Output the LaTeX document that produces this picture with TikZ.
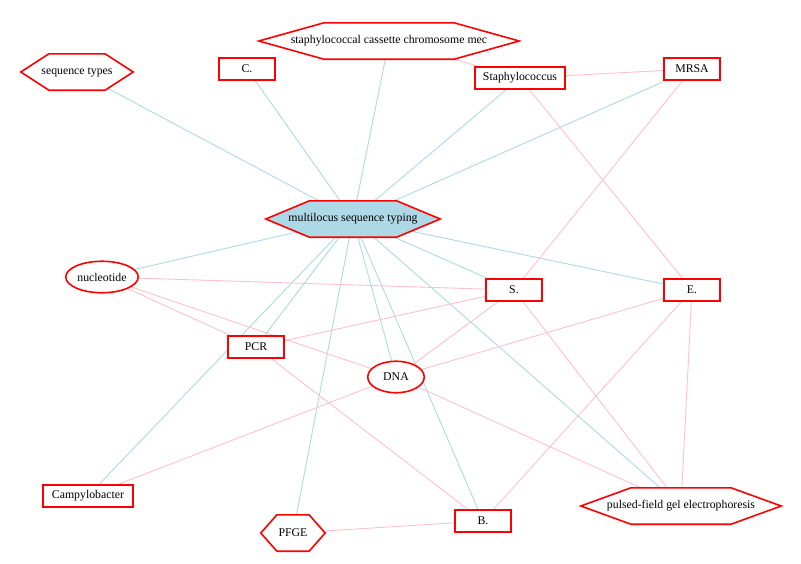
\documentclass[tikz,border=0pt]{standalone}
\usepackage{fontspec}
\setmainfont{Liberation Serif}
\usetikzlibrary{shapes.geometric}
\definecolor{edgeblue}{RGB}{173,216,230}
\definecolor{edgepink}{RGB}{255,192,203}
\definecolor{nodered}{RGB}{255,0,0}
\pgfdeclarelayer{edges}
\pgfdeclarelayer{shapes}
\pgfsetlayers{edges,shapes,main}
\tikzset{
  every node/.style={font=\fontsize{11.8}{14}\selectfont, inner sep=0pt},
  boxnode/.style={draw=nodered, line width=1.6pt, fill=white, minimum width=55.5pt, minimum height=22.5pt},
  ellnode/.style={ellipse, draw=nodered, line width=1.6pt, fill=white},
  hextext/.style={},
  hexline/.style={draw=nodered, line width=1.6pt, fill=white},
  blueedge/.style={draw=edgeblue, line width=0.9pt},
  pinkedge/.style={draw=edgepink, line width=0.9pt},
}
% #1 extra style, #2 name, #3 x, #4 y, #5 width, #6 height, #7 text
\newcommand\hexnode[7][]{%
  \node[hextext] (#2) at (#3,#4) {#7};
  \begin{pgfonlayer}{shapes}
  \path[hexline,#1] ({#3-#5/2+0.8},{#4}) -- ({#3-#5/4+0.4},{#4-#6/2+0.8}) -- ({#3+#5/4-0.4},{#4-#6/2+0.8})
     -- ({#3+#5/2-0.8},{#4}) -- ({#3+#5/4-0.4},{#4+#6/2-0.8}) -- ({#3-#5/4+0.4},{#4+#6/2-0.8}) -- cycle;
  \end{pgfonlayer}}
\begin{document}
\begin{tikzpicture}[x=1pt,y=-1pt]
\useasboundingbox (0,0) rectangle (801,563);
% hexagon nodes
\hexnode{seqtypes}{77}{72}{114}{38}{sequence types}
\hexnode{cassette}{389}{41}{262}{38}{staphylococcal cassette chromosome mec}
\hexnode[fill=edgeblue]{mlst}{353}{219}{176}{38}{multilocus sequence typing}
\hexnode{pfgeshort}{293}{533}{66}{38}{PFGE}
\hexnode{pfgelong}{681}{506}{202}{38}{pulsed-field gel electrophoresis}
% box nodes
\node[boxnode] (c) at (247,69) {C.};
\node[boxnode, minimum width=90.5pt] (staph) at (520,78) {Staphylococcus};
\node[boxnode] (mrsa) at (692,69) {MRSA};
\node[boxnode] (s) at (514,290) {S.};
\node[boxnode] (e) at (692,290) {E.};
\node[boxnode] (pcr) at (256,347) {PCR};
\node[boxnode, minimum width=89.5pt] (campy) at (88,496) {Campylobacter};
\node[boxnode] (b) at (483,521) {B.};
% ellipse nodes
\node[ellnode, minimum width=72.5pt, minimum height=31.5pt] (nucl) at (102,277) {nucleotide};
\node[ellnode, minimum width=56.5pt, minimum height=31.5pt] (dna) at (396,377) {DNA};
% edges
\begin{pgfonlayer}{edges}
\draw[blueedge] (mlst.center) -- (seqtypes.center);
\draw[blueedge] (mlst.center) -- (c);
\draw[blueedge] (mlst.center) -- (cassette.center);
\draw[blueedge] (mlst.center) -- (staph);
\draw[blueedge] (mlst.center) -- (mrsa);
\draw[blueedge] (mlst.center) -- (nucl);
\draw[blueedge] (mlst.center) -- (campy);
\draw[blueedge] (mlst.center) -- (pcr);
\draw[blueedge] (mlst.center) -- (pfgeshort.center);
\draw[blueedge] (mlst.center) -- (dna);
\draw[blueedge] (mlst.center) -- (b);
\draw[blueedge] (mlst.center) -- (pfgelong.center);
\draw[blueedge] (mlst.center) -- (s);
\draw[blueedge] (mlst.center) -- (e);
\draw[pinkedge] (cassette.center) -- (staph);
\draw[pinkedge] (staph) -- (mrsa);
\draw[pinkedge] (staph) -- (e);
\draw[pinkedge] (mrsa) -- (s);
\draw[pinkedge] (nucl) -- (s);
\draw[pinkedge] (nucl) -- (pcr);
\draw[pinkedge] (nucl) -- (dna);
\draw[pinkedge] (pcr) -- (s);
\draw[pinkedge] (pcr) -- (b);
\draw[pinkedge] (dna) -- (s);
\draw[pinkedge] (dna) -- (e);
\draw[pinkedge] (dna) -- (campy);
\draw[pinkedge] (dna) -- (pfgelong.center);
\draw[pinkedge] (s) -- (pfgelong.center);
\draw[pinkedge] (e) -- (b);
\draw[pinkedge] (e) -- (pfgelong.center);
\draw[pinkedge] (pfgeshort.center) -- (b);
\end{pgfonlayer}
\end{tikzpicture}
\end{document}
